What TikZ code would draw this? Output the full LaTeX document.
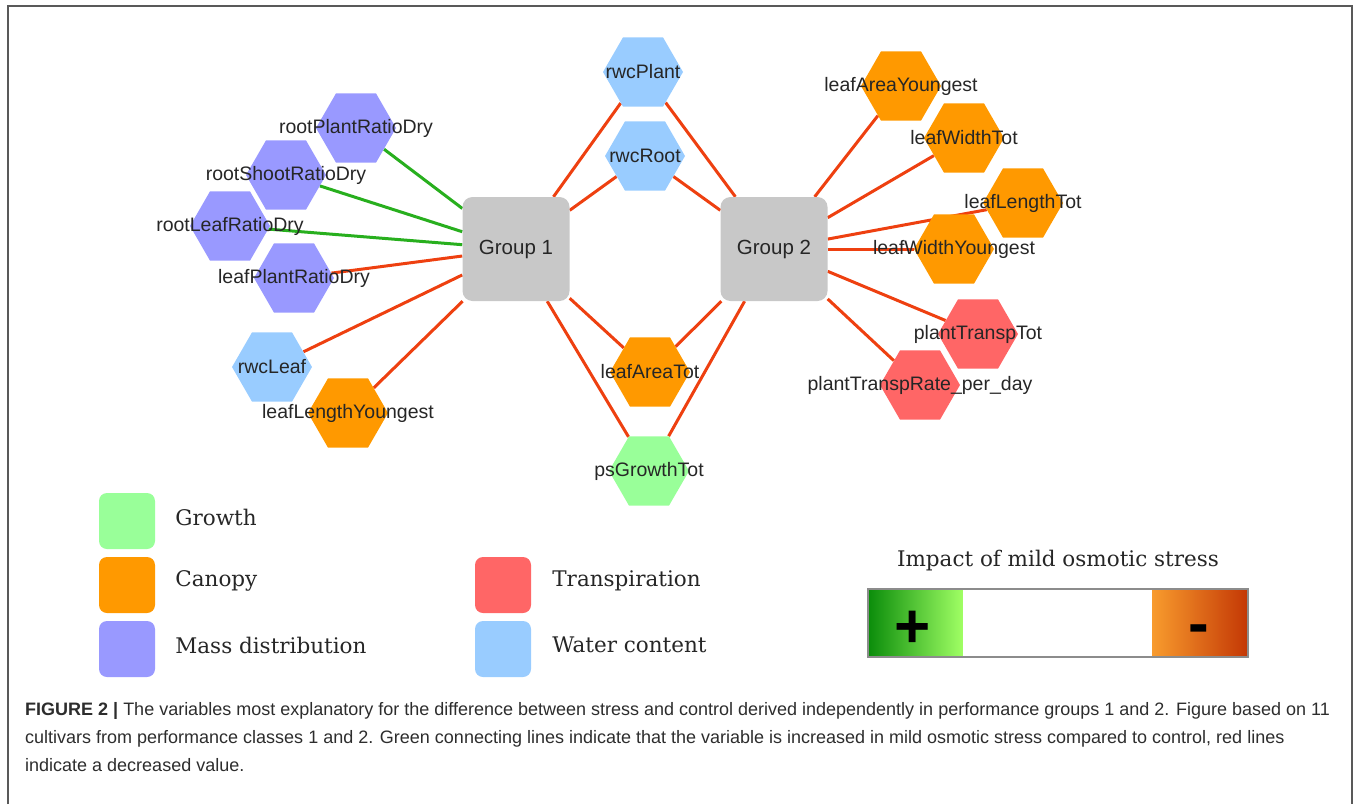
\documentclass[tikz,border=0pt]{standalone}
\usepackage{fontspec}
\setmainfont{Liberation Sans}
\newfontfamily\keyfont{DejaVu Serif}
\usetikzlibrary{shapes.geometric,positioning,backgrounds}

\definecolor{massc}{RGB}{153,153,255}
\definecolor{waterc}{RGB}{153,204,255}
\definecolor{canopyc}{RGB}{255,153,0}
\definecolor{transpc}{RGB}{255,102,102}
\definecolor{growthc}{RGB}{153,255,153}
\definecolor{groupc}{RGB}{200,200,200}
\definecolor{upc}{RGB}{40,175,30}
\definecolor{downc}{RGB}{238,64,16}
\definecolor{plusdark}{RGB}{10,140,10}
\definecolor{pluslight}{RGB}{160,255,100}
\definecolor{minuslight}{RGB}{248,155,45}
\definecolor{minusdark}{RGB}{195,55,5}
\definecolor{capc}{RGB}{45,45,45}

\begin{document}
\begin{tikzpicture}[x=1pt,y=-1pt,node distance=64pt,
    hex node/.style={regular polygon,regular polygon sides=6,minimum size=80pt,
      inner sep=0pt,label={center:#1}},
    every label/.style={font=\fontsize{19.5}{22}\selectfont,text=black!85},
    group node/.style={rectangle,rounded corners=10pt,fill=groupc,minimum width=107pt,
      minimum height=104pt,font=\fontsize{20.5}{24}\selectfont,text=black!85},
    up edge/.style={draw=upc,line width=3pt},
    down edge/.style={draw=downc,line width=3pt},
    key box/.style={rectangle,rounded corners=8pt,minimum size=56pt,inner sep=0pt},
    key text/.style={font=\keyfont\fontsize{21.5}{26}\selectfont,inner sep=0pt,text=black!85},
    sign/.style={font=\bfseries\fontsize{62}{62}\selectfont,inner sep=0pt},
    caption/.style={font=\fontsize{18}{22}\selectfont,text=capc,inner sep=0pt,anchor=base west}]

  \useasboundingbox (0,0) rectangle (1357,804);
  \draw[black!65,line width=1.2pt] (8,804) |- (1352,6) -- (1352,804);

  % Define vertices
  \node[group node] (g1) at (516,249) {Group 1};
  \node[group node] (g2) at (774,249) {Group 2};

  \node[hex node=rootPlantRatioDry,fill=massc] (rootPlant) at (356,128) {};
  \node[hex node=rootShootRatioDry,fill=massc] (rootShoot) at (286,175) {};
  \node[hex node=rootLeafRatioDry,fill=massc] (rootLeaf) at (230,226) {};
  \node[hex node=leafPlantRatioDry,fill=massc] (leafPlant) at (294,278) {};
  \node[hex node=rwcLeaf,fill=waterc] (rwcLeaf) at (272,367) {};
  \node[hex node=leafLengthYoungest,fill=canopyc] (leafLenY) at (348,413) {};
  \node[hex node=rwcPlant,fill=waterc] (rwcPlant) at (643,72) {};
  \node[hex node=rwcRoot,fill=waterc] (rwcRoot) at (645,156) {};
  \node[hex node=leafAreaTot,fill=canopyc] (leafAreaTot) at (650,372) {};
  \node[hex node=psGrowthTot,fill=growthc] (psGrowth) at (649,471) {};
  \node[hex node=leafAreaYoungest,fill=canopyc] (leafAreaY) at (901,86) {};
  \node[hex node=leafWidthTot,fill=canopyc] (leafWidthTot) at (964,138) {};
  \node[hex node=leafLengthTot,fill=canopyc] (leafLenTot) at (1023,203) {};
  \node[hex node=leafWidthYoungest,fill=canopyc] (leafWidthY) at (954,249) {};
  \node[hex node=plantTranspTot,fill=transpc] (transpTot) at (978,334) {};
  \node[hex node=plantTranspRate\_per\_day,fill=transpc] (transpRate) at (920,385) {};

  % Draw edges
  \begin{scope}[on background layer]
    \path[up edge]
      (g1) edge (rootPlant)
      (g1) edge (rootShoot)
      (g1) edge (rootLeaf);
    \path[down edge]
      (g1) edge (leafPlant)
      (g1) edge (rwcLeaf)
      (g1) edge (leafLenY)
      (g1) edge (rwcPlant)
      (g1) edge (rwcRoot)
      (g1) edge (leafAreaTot)
      (g1) edge (psGrowth)
      (g2) edge (rwcPlant)
      (g2) edge (rwcRoot)
      (g2) edge (leafAreaTot)
      (g2) edge (psGrowth)
      (g2) edge (leafAreaY)
      (g2) edge (leafWidthTot)
      (g2) edge (leafLenTot)
      (g2) edge (leafWidthY)
      (g2) edge (transpTot)
      (g2) edge (transpRate);
  \end{scope}

  % Legend
  \node[key box,fill=growthc] (kGrowth) at (127,521) {};
  \node[key box,fill=canopyc] (kCanopy) [below of=kGrowth] {};
  \node[key box,fill=massc] (kMass) [below of=kCanopy] {};
  \node[key box,fill=transpc] (kTransp) at (503,585) {};
  \node[key box,fill=waterc] (kWater) [below of=kTransp] {};
  \node[key text,right=20pt of kGrowth,yshift=4pt] (tGrowth) {Growth};
  \node[key text,right=20pt of kCanopy,yshift=4pt] (tCanopy) {Canopy};
  \node[key text,right=20pt of kMass,yshift=4pt] (tMass) {Mass distribution};
  \node[key text,right=21pt of kTransp,yshift=4pt] (tTransp) {Transpiration};
  \node[key text,right=21pt of kWater,yshift=4pt] (tWater) {Water content};

  % Impact scale
  \node[minimum width=380pt,minimum height=68pt,inner sep=0pt] (bar) at (1058,623) {};
  \shade[left color=plusdark,right color=pluslight]
    (bar.north west) rectangle ([xshift=95pt]bar.south west);
  \shade[left color=minuslight,right color=minusdark]
    ([xshift=-96pt]bar.north east) rectangle (bar.south east);
  \draw[black!45,line width=1.5pt] (bar.north west) rectangle (bar.south east);
  \node[key text,above=18pt of bar] (impact) {Impact of mild osmotic stress};
  \node[sign] (plus) at ([xshift=45pt,yshift=-6pt]bar.west) {+};
  \node[sign] (minus) at ([xshift=-49pt,yshift=-12pt]bar.east) {-};

  % Caption
  \node[caption] (cap1) at (25,715) {\textbf{FIGURE 2 |} The variables most explanatory for the difference between stress and control derived independently in performance groups 1 and 2. Figure based on 11};
  \node[caption] (cap2) at (25,743) {cultivars from performance classes 1 and 2. Green connecting lines indicate that the variable is increased in mild osmotic stress compared to control, red lines};
  \node[caption] (cap3) at (25,771) {indicate a decreased value.};

\end{tikzpicture}
\end{document}
